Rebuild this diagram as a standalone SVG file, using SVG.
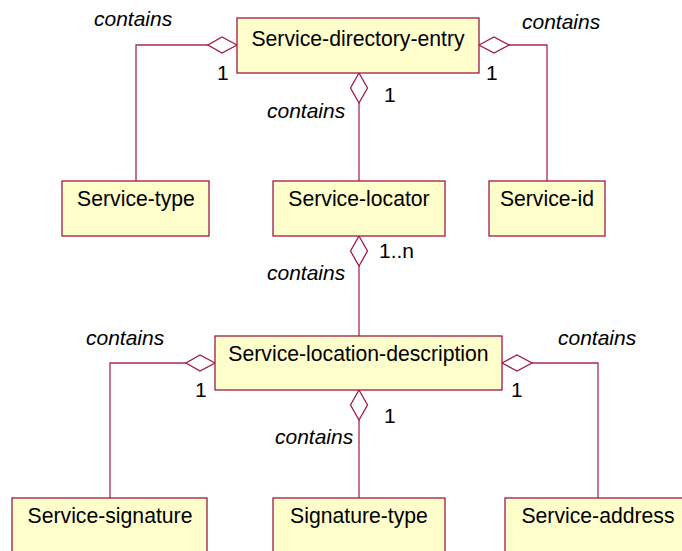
<svg xmlns="http://www.w3.org/2000/svg" width="682" height="551" viewBox="0 0 682 551">
<style>
.box{fill:#FFFFCC;stroke:#A01848;stroke-width:1.3}
.name{font-family:"Liberation Sans",Arial,sans-serif;font-size:21.2px;fill:#000;text-anchor:middle}
.lbl{font-family:"Liberation Sans",Arial,sans-serif;font-size:21px;fill:#000}
.it{font-style:italic}
.ln{fill:none;stroke:#A8285A;stroke-width:1.3}
.dia{fill:#fff;stroke:#A01848;stroke-width:1.3}
</style>
<rect width="682" height="551" fill="#fff"/>
<g id="connectors">
<path class="ln" d="M208,45 H136 V181"/>
<polygon class="dia" points="237,45 222,37 208,45 222,53"/>
<path class="ln" d="M509,45 H547 V181"/>
<polygon class="dia" points="479,45 494,37 509,45 494,53"/>
<path class="ln" d="M359,103 V181"/>
<polygon class="dia" points="359,73 367.5,88 359,103 350.5,88"/>
<path class="ln" d="M359,266 V336"/>
<polygon class="dia" points="359,236 367.5,251 359,266 350.5,251"/>
<path class="ln" d="M186,363 H110 V498"/>
<polygon class="dia" points="215,363 200,355 186,363 200,371"/>
<path class="ln" d="M532,363 H598 V498"/>
<polygon class="dia" points="502,363 517,355 532,363 517,371"/>
<path class="ln" d="M359,420 V498"/>
<polygon class="dia" points="359,390 367.5,405 359,420 350.5,405"/>
<text class="lbl it" x="94" y="26">contains</text>
<text class="lbl it" x="522" y="29">contains</text>
<text class="lbl it" x="267" y="118">contains</text>
<text class="lbl it" x="267" y="280">contains</text>
<text class="lbl it" x="86" y="345">contains</text>
<text class="lbl it" x="558" y="345">contains</text>
<text class="lbl it" x="275" y="444">contains</text>
<text class="lbl" x="217" y="80">1</text>
<text class="lbl" x="486" y="80">1</text>
<text class="lbl" x="384" y="102">1</text>
<text class="lbl" x="379" y="258">1..n</text>
<text class="lbl" x="195" y="397">1</text>
<text class="lbl" x="511" y="397">1</text>
<text class="lbl" x="384" y="423">1</text>
</g>
<g id="service-directory-entry"><rect class="box" x="237" y="18" width="242" height="55"/><text class="name" x="358" y="46">Service-directory-entry</text></g>
<g id="service-type"><rect class="box" x="62" y="181" width="147" height="55"/><text class="name" x="136" y="206">Service-type</text></g>
<g id="service-locator"><rect class="box" x="273" y="181" width="172" height="55"/><text class="name" x="359" y="206">Service-locator</text></g>
<g id="service-id"><rect class="box" x="489" y="181" width="116" height="55"/><text class="name" x="547" y="206">Service-id</text></g>
<g id="service-location-description"><rect class="box" x="215" y="336" width="287" height="54"/><text class="name" x="358.5" y="361">Service-location-description</text></g>
<g id="service-signature"><rect class="box" x="12" y="498" width="195" height="60"/><text class="name" x="110" y="523">Service-signature</text></g>
<g id="signature-type"><rect class="box" x="273" y="498" width="172" height="60"/><text class="name" x="359" y="523">Signature-type</text></g>
<g id="service-address"><rect class="box" x="505" y="498" width="190" height="60"/><text class="name" x="598" y="523">Service-address</text></g>
</svg>
